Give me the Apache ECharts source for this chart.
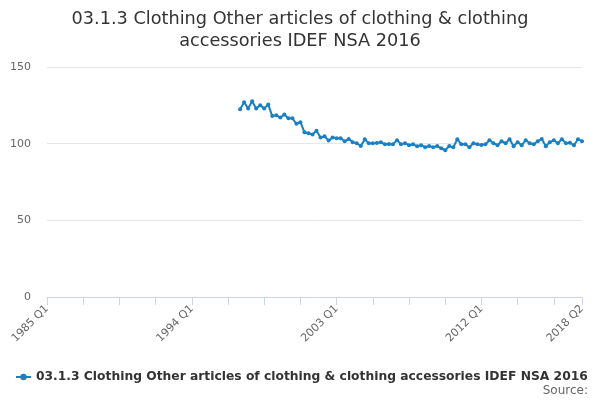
<!DOCTYPE html>
<html>
<head>
<meta charset="utf-8">
<script src="https://cdn.jsdelivr.net/npm/echarts@6/dist/echarts.min.js"></script>
<style>
  html, body { margin: 0; padding: 0; background: #fff; }
  #chart { width: 600px; height: 400px; }
</style>
</head>
<body>
<div id="chart"></div>
<script>
// quarters 1985 Q1 .. 2018 Q2
var startYear = 1985;
var categories = [];
for (var y = startYear; y <= 2018; y++) {
    for (var q = 1; q <= 4; q++) {
        if (y === 2018 && q > 2) break;
        categories.push(y + " Q" + q);
    }
}

var seriesName = "03.1.3 Clothing Other articles of clothing & clothing accessories IDEF NSA 2016";
var firstQuarter = "1997 Q1";

// values, 1997 Q1 .. 2018 Q2
var values = [
    122.4, 127.0, 123.0, 127.6,
    123.0, 125.0, 123.0, 125.5,
    118.0, 118.5, 117.0, 119.0,
    116.5, 116.5, 113.0, 114.0,
    107.5, 106.8, 106.0, 108.5,
    104.0, 104.8, 102.0, 104.0,
    103.5, 103.5, 101.6, 103.0,
    101.0, 100.3, 98.5, 102.8,
    100.3, 100.3, 100.5, 101.0,
    99.6, 99.8, 99.7, 102.2,
    99.7, 100.2, 99.0, 99.6,
    98.3, 99.0, 97.7, 98.5,
    97.6, 98.4, 97.0, 95.7,
    98.4, 97.6, 102.9, 99.6,
    99.6, 97.7, 100.3, 99.6,
    99.2, 99.6, 102.2, 100.3,
    99.0, 101.6, 100.3, 102.9,
    98.3, 101.0, 99.0, 102.2,
    100.3, 99.6, 101.6, 103.0,
    98.3, 101.0, 102.2, 100.3,
    102.9, 100.3, 100.6, 99.0,
    102.9, 101.6
];

var yTicks = [0, 50, 100, 150];

var offset = categories.indexOf(firstQuarter);
var lineData = categories.map(function (c, i) {
    var k = i - offset;
    return (k >= 0 && k < values.length) ? values[k] : null;
});

var chart = echarts.init(document.getElementById("chart"));
chart.setOption({
    animation: false,
    title: {
        text: "03.1.3 Clothing Other articles of clothing & clothing\naccessories IDEF NSA 2016",
        left: "center",
        top: 3,
        textStyle: {
            fontFamily: "DejaVu Sans",
            fontSize: 17.7,
            fontWeight: "normal",
            color: "#333333",
            lineHeight: 22
        }
    },
    grid: { left: 47, right: 18, top: 67, bottom: 103 },
    legend: {
        left: 10,
        top: 366,
        itemWidth: 15,
        itemHeight: 8,
        textStyle: {
            fontFamily: "DejaVu Sans",
            fontSize: 12.3,
            fontWeight: "bold",
            color: "#333333"
        },
        data: [seriesName]
    },
    graphic: [{
        type: "text",
        right: 12,
        top: 385,
        style: {
            text: "Source:",
            fontFamily: "DejaVu Sans",
            fontSize: 12,
            fill: "#666666"
        }
    }],
    xAxis: {
        type: "category",
        data: categories,
        boundaryGap: false,
        axisLine: { lineStyle: { color: "#ccd6eb" } },
        axisTick: {
            length: 8,
            lineStyle: { color: "#ccd6eb" },
            interval: function (i) { return i % 9 === 0 || i === categories.length - 1; }
        },
        axisLabel: {
            rotate: 45,
            fontFamily: "DejaVu Sans",
            fontSize: 11,
            color: "#666666",
            margin: 10,
            interval: function (i) { return i % 36 === 0 || i === categories.length - 1; }
        }
    },
    yAxis: {
        type: "value",
        min: yTicks[0],
        max: yTicks[yTicks.length - 1],
        interval: 50,
        axisLine: { show: false },
        axisTick: { show: false },
        splitLine: { lineStyle: { color: "#e6e6e6" } },
        axisLabel: {
            fontFamily: "DejaVu Sans",
            fontSize: 11,
            color: "#666666",
            margin: 16
        }
    },
    series: [{
        name: seriesName,
        type: "line",
        data: lineData,
        connectNulls: false,
        symbol: "circle",
        symbolSize: 4,
        showSymbol: true,
        showAllSymbol: true,
        lineStyle: { width: 2, color: "#1a80c4" },
        itemStyle: { color: "#1a80c4" }
    }]
});
</script>
</body>
</html>
